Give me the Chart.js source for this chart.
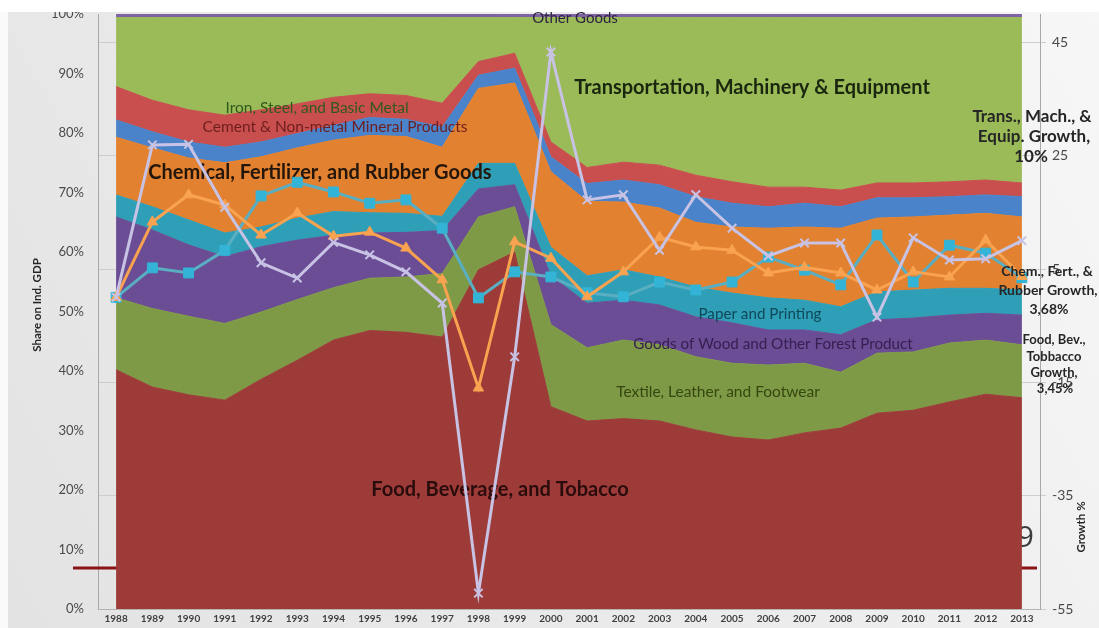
<!DOCTYPE html>
<html>
<head>
<meta charset="utf-8">
<script src="https://cdn.jsdelivr.net/npm/chart.js@4.4.0/dist/chart.umd.min.js"></script>
<style>
  html, body { margin: 0; padding: 0; background: #ededed; }
  #wrap { width: 1099px; height: 628px; position: relative; }
</style>
</head>
<body>
<div id="wrap"><canvas id="c" width="1099" height="628"></canvas></div>
<script>
// Years on the category axis
const years = ['1988','1989','1990','1991','1992','1993','1994','1995','1996','1997','1998','1999','2000',
               '2001','2002','2003','2004','2005','2006','2007','2008','2009','2010','2011','2012','2013'];

// Sector shares of industrial GDP (%), stacked bottom to top
const foodShare      = [40.2,37.3,36.0,35.1,38.6,41.8,45.2,46.8,46.5,45.7,57.0,60.0,34.0,31.6,32.0,31.6,30.1,28.9,28.4,29.6,30.4,32.9,33.4,34.8,36.1,35.5];
const textileShare   = [12.1,13.2,13.2,12.9,11.3,10.2, 8.8, 8.8, 9.3,10.7, 8.9, 7.6,13.8,12.3,13.2,12.8,12.3,12.4,12.6,11.7, 9.4,10.1, 9.8, 9.9, 9.1, 8.9];
const woodShare      = [13.6,13.2,12.0,11.2,11.0,10.0, 8.8, 7.6, 7.5, 7.2, 4.7, 3.7, 8.2, 7.5, 6.7, 6.7, 6.7, 6.8, 5.9, 5.6, 6.3, 5.6, 5.7, 4.7, 4.5, 5.0];
const paperShare     = [ 3.7, 3.9, 4.2, 4.0, 3.3, 3.7, 4.0, 3.4, 3.2, 2.4, 4.3, 3.6, 4.8, 4.6, 5.1, 4.7, 5.0, 5.0, 5.4, 5.0, 4.7, 4.7, 4.7, 4.5, 4.2, 4.2];
const chemicalShare  = [ 9.7, 9.9,10.4,11.8,11.8,11.8,12.0,13.0,12.9,11.6,12.6,13.5,12.7,12.5,11.4,11.6,10.9,11.1,11.7,12.3,13.2,12.4,12.3,12.3,12.6,12.3];
const cementShare    = [ 2.9, 2.7, 2.7, 2.6, 2.5, 2.4, 2.5, 3.0, 2.9, 3.4, 2.2, 2.5, 2.5, 3.0, 3.7, 3.9, 4.3, 4.0, 3.6, 4.0, 3.6, 3.4, 3.2, 3.1, 3.1, 3.4];
const ironShare      = [ 5.6, 5.3, 5.4, 5.4, 5.4, 5.0, 4.7, 4.0, 4.0, 4.0, 2.3, 2.5, 2.5, 2.7, 3.0, 3.3, 3.6, 3.6, 3.3, 2.7, 2.8, 2.5, 2.5, 2.5, 2.5, 2.3];
const transportShare = [11.6,13.9,15.5,16.4,15.5,14.5,13.4,12.8,13.1,14.4, 7.4, 6.0,20.9,25.2,24.3,24.8,26.5,27.6,28.5,28.5,29.0,27.8,27.8,27.6,27.3,27.8];
const otherShare     = [ 0.6, 0.6, 0.6, 0.6, 0.6, 0.6, 0.6, 0.6, 0.6, 0.6, 0.6, 0.6, 0.6, 0.6, 0.6, 0.6, 0.6, 0.6, 0.6, 0.6, 0.6, 0.6, 0.6, 0.6, 0.6, 0.6];

// Annual growth (%) of three sectors, right axis
const transportGrowth = [0,26.9,27.0,15.9,6.1,3.4,9.7,7.5,4.5,-1.0,-52.2,-10.5,43.3,17.2,18.1,8.3,18.1,12.2,7.3,9.6,9.6,-3.5,10.5,6.6,6.8,10];
const chemicalGrowth  = [0,13.3,18.1,16.3,11.0,14.9,10.8,11.5,8.7,3.1,-16.0,9.8,6.9,0.1,4.5,10.6,8.9,8.3,4.3,5.3,4.3,1.3,4.5,3.6,10.1,3.68];
const foodGrowth      = [0,5.2,4.3,8.3,17.9,20.3,18.6,16.6,17.2,12.2,-0.1,4.5,3.6,0.8,0.1,2.7,1.3,2.7,7.1,4.8,2.2,11.0,2.7,9.2,7.8,3.45];

// Tick values
const shareTicks  = [0,10,20,30,40,50,60,70,80,90,100];
const growthTicks = [-55,-35,-15,5,25,45];

const FONT = 'Lato, "Open Sans", "DejaVu Sans", sans-serif';

const areaSeries = [
  { label: 'Food, Beverage, and Tobacco',            data: foodShare,      color: '#9d3b38' },
  { label: 'Textile, Leather, and Footwear',         data: textileShare,   color: '#7f9a46' },
  { label: 'Goods of Wood and Other Forest Product', data: woodShare,      color: '#6b4d96' },
  { label: 'Paper and Printing',                     data: paperShare,     color: '#2f9fb7' },
  { label: 'Chemical, Fertilizer, and Rubber Goods', data: chemicalShare,  color: '#e2812f' },
  { label: 'Cement & Non-metal Mineral Products',    data: cementShare,    color: '#4a83ca' },
  { label: 'Iron, Steel, and Basic Metal',           data: ironShare,      color: '#c84f4d' },
  { label: 'Transportation, Machinery & Equipment',  data: transportShare, color: '#9abb57' },
  { label: 'Other Goods',                            data: otherShare,     color: '#7e62a6' }
];

const datasets = areaSeries.map((s, i) => ({
  label: s.label,
  data: s.data,
  yAxisID: 'y',
  backgroundColor: s.color,
  borderColor: s.color,
  borderWidth: 1,
  pointRadius: 0,
  tension: 0,
  fill: i === 0 ? 'origin' : '-1',
  order: 1
}));

datasets.push(
  { label: 'Trans., Mach., & Equip. Growth', data: transportGrowth, yAxisID: 'y2',
    borderColor: '#c8c3e4', backgroundColor: '#c8c3e4', borderWidth: 3, tension: 0,
    pointStyle: 'crossRot', pointRadius: 6, pointBorderWidth: 2, pointBorderColor: '#c8c3e4', fill: false, order: 0 },
  { label: 'Chem., Fert., & Rubber Growth', data: chemicalGrowth, yAxisID: 'y2',
    borderColor: '#f9a24f', backgroundColor: '#f9a24f', borderWidth: 3, tension: 0,
    pointStyle: 'triangle', pointRadius: 6, pointBorderWidth: 1, pointBorderColor: '#f9a24f', fill: false, order: 0 },
  { label: 'Food, Bev., Tobbacco Growth', data: foodGrowth, yAxisID: 'y2',
    borderColor: '#5aaec2', backgroundColor: '#33b4d6', borderWidth: 3, tension: 0,
    pointStyle: 'rect', pointRadius: 7, pointBorderWidth: 1, pointBorderColor: '#33b4d6', fill: false, order: 0 }
);

// In-plot labels for the stacked sectors
const areaLabels = [
  { t: 'Other Goods', x: 575, y: 18, size: 15, w: 'normal', c: '#2c2440' },
  { t: 'Transportation, Machinery & Equipment', x: 752, y: 88, size: 20, w: 'bold', c: '#1b260f' },
  { t: 'Iron, Steel, and Basic Metal', x: 317, y: 108, size: 15.5, w: 'normal', c: '#2f5a1c' },
  { t: 'Cement & Non-metal Mineral Products', x: 335, y: 127, size: 15.5, w: 'normal', c: '#6e1e1e' },
  { t: 'Chemical, Fertilizer, and Rubber Goods', x: 320, y: 173, size: 20, w: 'bold', c: '#24160a' },
  { t: 'Paper and Printing', x: 760, y: 314, size: 15.2, w: 'normal', c: '#0f4858' },
  { t: 'Goods of Wood and Other Forest Product', x: 773, y: 344, size: 15.2, w: 'normal', c: '#35204f' },
  { t: 'Textile, Leather, and Footwear', x: 718, y: 392, size: 15.5, w: 'normal', c: '#36460f' },
  { t: 'Food, Beverage, and Tobacco', x: 500, y: 490, size: 20, w: 'bold', c: '#2a0c0c' }
];

// End-of-line growth captions at the right
const growthLabels = [
  { lines: ['Trans., Mach., &', 'Equip. Growth,', '10%'], x: [1032, 1034, 1031], y: 117, step: 20, size: 17 },
  { lines: ['Chem., Fert., &', 'Rubber Growth,', '3,68%'], x: [1047, 1048, 1049], y: 271, step: 19, size: 14 },
  { lines: ['Food, Bev.,', 'Tobbacco', 'Growth,', '3,45%'], x: [1054, 1054, 1054, 1055], y: 340, step: 16.4, size: 13 }
];

function drawText(ctx, t, x, y, size, weight, color, align) {
  ctx.save();
  ctx.font = weight + ' ' + size + 'px ' + FONT;
  ctx.fillStyle = color;
  ctx.textAlign = align || 'center';
  ctx.textBaseline = 'middle';
  ctx.fillText(t, x, y);
  ctx.restore();
}

const decor = {
  id: 'decor',
  beforeDraw(chart) {
    const ctx = chart.ctx;
    ctx.save();
    const g = ctx.createLinearGradient(0, chart.height, chart.width, 0);
    g.addColorStop(0, '#e3e3e3');
    g.addColorStop(0.55, '#ececec');
    g.addColorStop(1, '#f7f7f7');
    ctx.fillStyle = g;
    ctx.fillRect(0, 0, chart.width, chart.height);
    ctx.fillStyle = '#fafafa';
    ctx.fillRect(0, 0, 8, chart.height);
    ctx.restore();
  },
  beforeDatasetsDraw(chart) {
    const ctx = chart.ctx;
    ctx.save();
    // slide rule line and page number behind the plot
    ctx.strokeStyle = '#8a1414';
    ctx.lineWidth = 3;
    ctx.beginPath();
    ctx.moveTo(73, 568);
    ctx.lineTo(1037, 568);
    ctx.stroke();
    ctx.font = '30px "Open Sans", sans-serif';
    ctx.fillStyle = '#3c3c3c';
    ctx.textAlign = 'right';
    ctx.textBaseline = 'alphabetic';
    ctx.fillText('9', 1034, 547);
    ctx.restore();
  },
  afterDatasetDraw(chart, args) {
    // once the last stacked area is painted, label the sectors (lines go on top)
    if (args.index !== 0) return;
    const ctx = chart.ctx;
    areaLabels.forEach(l => drawText(ctx, l.t, l.x, l.y, l.size, l.w, l.c));
  },
  afterDraw(chart) {
    const ctx = chart.ctx;
    growthLabels.forEach(g => {
      g.lines.forEach((ln, i) => drawText(ctx, ln, g.x[i], g.y + i * g.step, g.size, 'bold', '#262626'));
    });
    // axis titles
    [['Share on Ind. GDP', 37, 305], ['Growth %', 1081, 527]].forEach(([t, x, y]) => {
      ctx.save();
      ctx.font = 'bold 11.5px ' + FONT;
      ctx.fillStyle = '#262626';
      ctx.textAlign = 'center';
      ctx.textBaseline = 'middle';
      ctx.translate(x, y);
      ctx.rotate(-Math.PI / 2);
      ctx.fillText(t, 0, 0);
      ctx.restore();
    });
    // white header band at the very top
    ctx.save();
    ctx.fillStyle = '#ffffff';
    ctx.fillRect(0, 0, chart.width, 12);
    ctx.restore();
  }
};

new Chart(document.getElementById('c'), {
  type: 'line',
  data: { labels: years, datasets },
  options: {
    responsive: false,
    animation: false,
    devicePixelRatio: 1,
    layout: { autoPadding: false, padding: { top: 14, left: 0, right: 0, bottom: 0 } },
    plugins: {
      legend: { display: false },
      tooltip: { enabled: false },
      filler: { propagate: false }
    },
    scales: {
      x: {
        offset: true,
        grid: { display: false, drawTicks: false },
        border: { display: true, color: '#b4b4b4' },
        ticks: { padding: 4, autoSkip: false, maxRotation: 0, color: '#404040',
                 font: { family: FONT, size: 10, weight: 'bold' } },
        afterFit: s => { s.height = 19; }
      },
      y: {
        position: 'left',
        stacked: true,
        min: 0, max: 100,
        // invisible tick marks give the gap between the labels and the axis line
        grid: { display: true, drawOnChartArea: false, drawTicks: true, tickLength: 14, tickColor: 'rgba(0,0,0,0)' },
        border: { display: true, color: '#a8a8a8' },
        ticks: { padding: 0, color: '#4a4a4a', font: { family: FONT, size: 13, lineHeight: 1 },
                 callback: v => v + '%' },
        afterBuildTicks: s => { s.ticks = shareTicks.map(v => ({ value: v })); },
        afterFit: s => { s.width = 98; }
      },
      y2: {
        position: 'right',
        min: -55, max: 50,
        grid: { display: true, drawOnChartArea: true, color: '#cdcdcd', tickLength: 6 },
        border: { display: true, color: '#a8a8a8' },
        ticks: { padding: 6, color: '#4a4a4a', font: { family: FONT, size: 14, lineHeight: 1 } },
        afterBuildTicks: s => { s.ticks = growthTicks.map(v => ({ value: v })); },
        afterFit: s => { s.width = 59; }
      }
    }
  },
  plugins: [decor]
});
</script>
</body>
</html>
